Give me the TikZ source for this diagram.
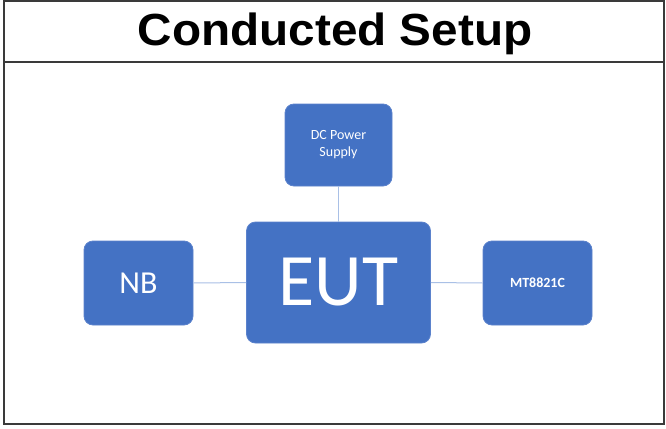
\documentclass[tikz,border=0pt]{standalone}
\usepackage{fontspec}
\setmainfont{Carlito}
\newfontfamily\titlefont{Liberation Sans}
\begin{document}
\begin{tikzpicture}[x=1pt,y=-1pt,
  blk/.style={draw=blkborder,line width=0.8pt,fill=blkfill,rounded corners=9pt,text=white,align=center,inner sep=0pt},
  wire/.style={draw=wirecol,line width=1pt}]
\definecolor{blkfill}{HTML}{4472C4}
\definecolor{blkborder}{HTML}{5B82CC}
\definecolor{wirecol}{HTML}{A9C0E6}
\definecolor{framecol}{HTML}{3A3A3A}
\useasboundingbox (0,0) rectangle (666,428);
\fill[white] (0,0) rectangle (666,428);
\draw[framecol,line width=2pt] (4,1.5) rectangle (664,424);
\draw[framecol,line width=2pt] (4,62) -- (664,62);
\node[font=\titlefont\bfseries\fontsize{45}{50}\selectfont,anchor=base,xscale=1.06,inner sep=0pt] (title) at (335,46) {Conducted Setup};
\node[blk,minimum width=107pt,minimum height=82pt,font=\fontsize{14}{17}\selectfont] (dc) at (338.5,145) {DC Power\\Supply};
\node[blk,minimum width=184pt,minimum height=121pt,font=\fontsize{74}{80}\selectfont] (eut) at (338.5,282.5) {EUT};
\node[blk,minimum width=109pt,minimum height=84pt,font=\fontsize{32}{36}\selectfont] (nb) at (138.5,283) {NB};
\node[blk,minimum width=109pt,minimum height=84pt,font=\bfseries\fontsize{14}{16}\selectfont] (mt) at (537.5,283) {MT8821C};
\draw[wire] (dc.south) -- (eut.north);
\draw[wire] (nb.east) -- (eut.west);
\draw[wire] (eut.east) -- (mt.west);
\end{tikzpicture}
\end{document}
